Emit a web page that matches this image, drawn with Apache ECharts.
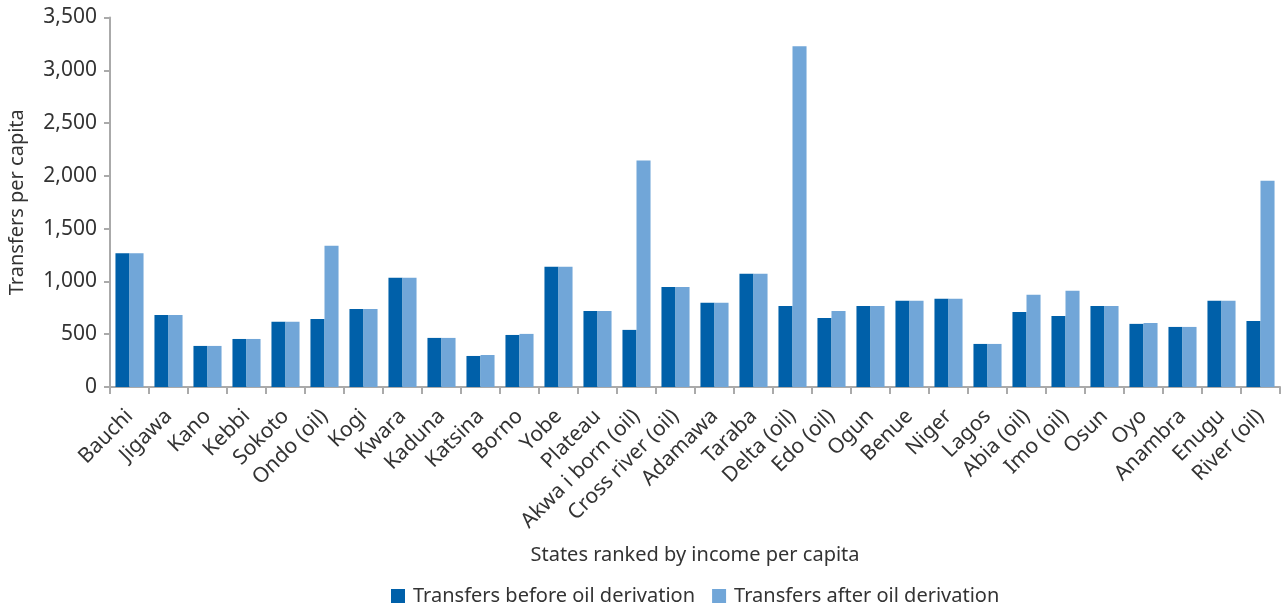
<!DOCTYPE html>
<html>
<head>
<meta charset="utf-8">
<script src="https://cdn.jsdelivr.net/npm/echarts@6/dist/echarts.min.js"></script>
<style>html,body{margin:0;padding:0;background:#fff}#c{width:1285px;height:608px}</style>
</head>
<body>
<div id="c"></div>
<script>
const categories = ["Bauchi","Jigawa","Kano","Kebbi","Sokoto","Ondo (oil)","Kogi","Kwara","Kaduna","Katsina","Borno","Yobe","Plateau","Akwa i born (oil)","Cross river (oil)","Adamawa","Taraba","Delta (oil)","Edo (oil)","Ogun","Benue","Niger","Lagos","Abia (oil)","Imo (oil)","Osun","Oyo","Anambra","Enugu","River (oil)"];
const beforeOil = [1268,683,389,455,617,645,740,1034,465,294,493,1138,721,541,948,797,1072,768,654,768,816,835,408,711,673,768,598,569,816,626];
const afterOil  = [1268,683,389,455,617,1337,740,1034,465,303,503,1138,721,2145,948,797,1072,3228,721,768,816,835,408,873,911,768,607,569,816,1954];
const seriesNames = ["Transfers before oil derivation","Transfers after oil derivation"];
const yTicks = {min:0, max:3500, interval:500};

const FONT = "Noto Sans";
const FS = 20;
const chart = echarts.init(document.getElementById('c'));
chart.setOption({
  animation:false,
  color:['#0060A9','#71A6D8'],
  textStyle:{fontFamily:FONT,color:'#333'},
  grid:{left:110,right:5,top:17.5,bottom:221,containLabel:false,outerBoundsMode:'none'},
  legend:{
    top:586,left:391,padding:0,itemWidth:14,itemHeight:14,itemGap:17,
    icon:'rect',
    textStyle:{fontFamily:FONT,fontSize:FS,color:'#333',padding:[0,0,0,3]},
    data:seriesNames
  },
  xAxis:{
    type:'category',data:categories,
    name:'States ranked by income per capita',nameLocation:'middle',nameGap:158,
    nameTextStyle:{fontFamily:FONT,fontSize:FS,color:'#333'},
    axisLine:{lineStyle:{color:'#aaa',width:2}},
    axisTick:{show:true,alignWithLabel:false,length:7,lineStyle:{color:'#aaa',width:2}},
    axisLabel:{rotate:45,interval:0,fontFamily:FONT,fontSize:21,color:'#333',margin:26}
  },
  yAxis:{
    type:'value',min:yTicks.min,max:yTicks.max,interval:yTicks.interval,
    name:'Transfers per capita',nameLocation:'middle',nameGap:83,
    nameTextStyle:{fontFamily:FONT,fontSize:FS,color:'#333'},
    axisLine:{show:true,lineStyle:{color:'#aaa',width:2}},
    axisTick:{show:true,length:6,lineStyle:{color:'#aaa',width:2}},
    splitLine:{show:false},
    axisLabel:{fontFamily:FONT,fontSize:21,color:'#333',margin:13,
      formatter:v=>v.toLocaleString('en-US')}
  },
  series:[
    {name:seriesNames[0],type:'bar',data:beforeOil,barGap:'0%',barCategoryGap:'28%'},
    {name:seriesNames[1],type:'bar',data:afterOil,barGap:'0%',barCategoryGap:'28%'}
  ]
});
</script>
</body>
</html>
